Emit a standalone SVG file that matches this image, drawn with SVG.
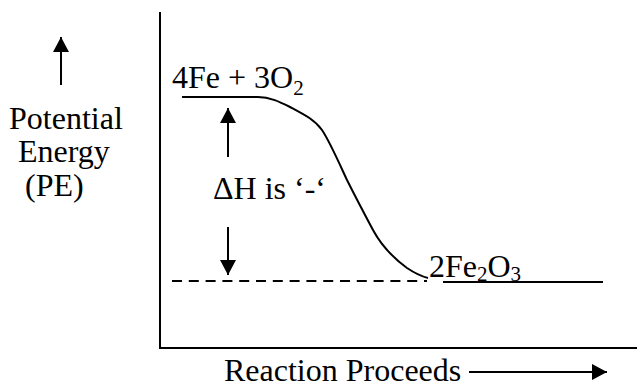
<svg xmlns="http://www.w3.org/2000/svg" width="637" height="387" viewBox="0 0 637 387">
<style>
text{font-family:"Liberation Serif","Times New Roman",serif;font-size:32px;fill:#000}
.sub{font-size:21px}
.ln{stroke:#000;stroke-width:2;fill:none}
.arr{stroke:#000;stroke-width:2;fill:none;marker-end:url(#ah)}
</style>
<defs>
<marker id="ah" markerUnits="userSpaceOnUse" markerWidth="16" markerHeight="16" refX="15" refY="8" orient="auto">
<path d="M0,0 L15,8 L0,16 z" fill="#000"/>
</marker>
</defs>
<rect width="637" height="387" fill="#fff"/>
<g id="axes">
<path class="ln" d="M160,12 V348 H637"/>
</g>
<g id="connectors">
<line class="arr" x1="61" y1="85" x2="61" y2="37"/>
<line class="arr" x1="228" y1="157" x2="228" y2="108"/>
<line class="arr" x1="228" y1="227" x2="228" y2="275"/>
<line class="arr" x1="469" y1="372" x2="607" y2="372"/>
<line class="ln" x1="182" y1="97" x2="258" y2="97"/>
<path class="ln" stroke-width="1.6" d="M258,97 C270,97 280,102 290,107 C305,115 315,120 322,130 C330,142 340,165 347,180 C355,196 365,215 373,230 C380,243 392,257 407,268 C413,272 420,276 428,278"/>
<line class="ln" stroke-width="1.6" stroke-dasharray="10 6.8" x1="172" y1="281" x2="427" y2="281"/>
<line class="ln" stroke-width="1.6" x1="443" y1="282" x2="603" y2="282"/>
</g>
<g id="pe-label">
<text x="9" y="129">Potential</text>
<text x="18" y="162">Energy</text>
<text x="25" y="196">(PE)</text>
</g>
<g id="reactants">
<text x="172" y="88">4Fe + 3O<tspan class="sub" dy="7">2</tspan></text>
</g>
<g id="dh-label">
<text x="213" y="199">ΔH is ‘-‘</text>
</g>
<g id="products">
<text x="429" y="277">2Fe<tspan class="sub" dy="4">2</tspan><tspan dy="-4">O</tspan><tspan class="sub" dy="4">3</tspan></text>
</g>
<g id="x-label">
<text x="224" y="381">Reaction Proceeds</text>
</g>
</svg>
